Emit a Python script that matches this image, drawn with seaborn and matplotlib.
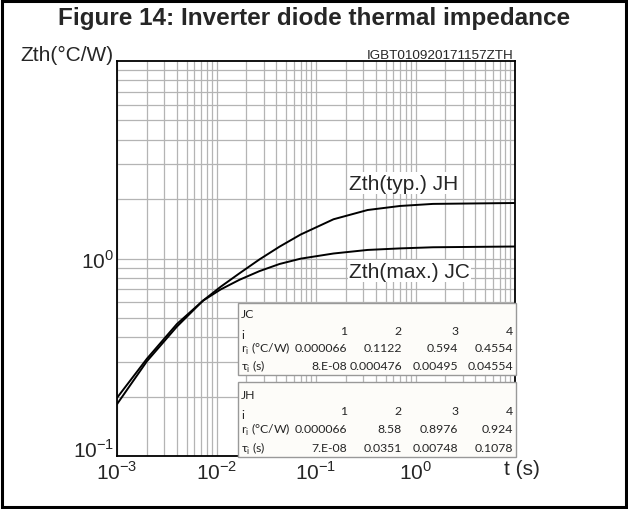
import pandas as pd
import seaborn as sns
import numpy as np
import matplotlib.pyplot as plt
import matplotlib.transforms as mtransforms
from matplotlib.patches import Rectangle

# values
t_s = [0.001, 0.002, 0.004, 0.0073, 0.011, 0.017, 0.027, 0.043, 0.07, 0.15, 0.33, 0.7, 1.5, 10]
zth_jc = [0.197, 0.311, 0.466, 0.611, 0.697, 0.780, 0.863, 0.938, 0.998, 1.060, 1.105, 1.125, 1.14, 1.15]
zth_jh = [0.183, 0.302, 0.452, 0.611, 0.719, 0.841, 0.989, 1.148, 1.322, 1.58, 1.76, 1.845, 1.89, 1.91]

cols = ["1", "2", "3", "4"]
jc_r = ["0.000066", "0.1122", "0.594", "0.4554"]
jc_tau = ["8.E-08", "0.000476", "0.00495", "0.04554"]
jh_r = ["0.000066", "8.58", "0.8976", "0.924"]
jh_tau = ["7.E-08", "0.0351", "0.00748", "0.1078"]

df = pd.DataFrame({
    "t": t_s + t_s,
    "Z": zth_jc + zth_jh,
    "curve": ["JC"] * len(t_s) + ["JH"] * len(t_s),
})

sns.set_style("white")
plt.rcParams["font.family"] = ["Liberation Sans", "DejaVu Sans"]
plt.rcParams["mathtext.fontset"] = "custom"
plt.rcParams["mathtext.rm"] = "Liberation Sans"

fig = plt.figure(figsize=(6.28, 5.10), dpi=100)
ax = fig.add_axes([117 / 628, 53 / 510, 398 / 628, 395 / 510])

sns.lineplot(data=df, x="t", y="Z", hue="curve", palette=["black", "black"],
             legend=False, sort=False, lw=1.4, ax=ax, zorder=3)

ax.set_xscale("log")
ax.set_yscale("log")
ax.set_xlim(1e-3, 10)
ax.set_ylim(0.1, 10)
ax.grid(True, which="both", color="#b4b4b4", lw=0.9)
ax.set_axisbelow(True)
ax.tick_params(which="both", length=0, labelsize=15)
ax.tick_params(axis="y", pad=2)
ax.tick_params(axis="x", pad=3)
ax.set_xticks([1e-3, 1e-2, 1e-1, 1e0])
ax.set_xticklabels(["$10^{-3}$", "$10^{-2}$", "$10^{-1}$", "$10^{0}$"])
ax.set_yticks([1e-1, 1e0])
ax.set_yticklabels(["$10^{-1}$", "$10^{0}$"])
ax.get_yticklabels()[0].set_transform(
    ax.get_yticklabels()[0].get_transform()
    + mtransforms.ScaledTranslation(0, 8 / 100, fig.dpi_scale_trans))
ax.set_xlabel("")
ax.set_ylabel("")
for s in ax.spines.values():
    s.set_color("black")
    s.set_linewidth(1.3)

def fx(px):
    return (px - 117) / 398

def fy(py):
    return (457 - py) / 395

# curve labels
ax.text(fx(349), fy(184), "Zth(typ.) JH", transform=ax.transAxes, fontsize=15,
        va="center", ha="left", zorder=4,
        bbox=dict(facecolor="white", edgecolor="none", pad=1))
ax.text(fx(349), fy(272), "Zth(max.) JC", transform=ax.transAxes, fontsize=15,
        va="center", ha="left", zorder=4,
        bbox=dict(facecolor="white", edgecolor="none", pad=1))

# parameter tables
tfont = ["Lato", "DejaVu Sans"]
col_x = [347, 402, 458, 513]

def draw_table(top, bottom, name, r_vals, tau_vals, y_name, y_i, y_r, y_tau):
    ax.add_patch(Rectangle((fx(238), fy(bottom)), fx(516) - fx(238), fy(top) - fy(bottom),
                           transform=ax.transAxes, facecolor="#fdfcf9",
                           edgecolor="#999999", lw=1.0, zorder=5, clip_on=False))
    kw = dict(transform=ax.transAxes, fontsize=8.8, family=tfont, zorder=6, va="center")
    ax.text(fx(241), fy(y_name), name, ha="left", **kw)
    ax.text(fx(241), fy(y_i + 4), "i", ha="left", **kw)
    ax.text(fx(241), fy(y_r), r"r$_\mathregular{i}$ (°C/W)", ha="left", **kw)
    ax.text(fx(241), fy(y_tau), r"τ$_\mathregular{i}$ (s)", ha="left", **kw)
    for cx, c, r, tau in zip(col_x, cols, r_vals, tau_vals):
        ax.text(fx(cx), fy(y_i), c, ha="right", **kw)
        ax.text(fx(cx), fy(y_r), r, ha="right", **kw)
        ax.text(fx(cx), fy(y_tau), tau, ha="right", **kw)

draw_table(304, 376, "JC", jc_r, jc_tau, 315, 332, 349, 367)
draw_table(383, 458, "JH", jh_r, jh_tau, 396, 412, 430, 449)

# outer texts
fig.text(314 / 628, 1 - 19 / 510, "Figure 14: Inverter diode thermal impedance",
         ha="center", va="center", fontsize=17.5, fontweight="bold")
fig.text(20 / 628, 1 - 55 / 510, "Zth(°C/W)", ha="left", va="center", fontsize=15)
fig.text(513 / 628, 1 - 56 / 510, "IGBT010920171157ZTH", ha="right", va="center", fontsize=9.7)
fig.text(504 / 628, 1 - 470 / 510, "t (s)", ha="left", va="center", fontsize=15)

fig.patches.append(Rectangle((2 / 628, 2 / 510), 624 / 628, 506 / 510,
                             transform=fig.transFigure, fill=False,
                             edgecolor="black", lw=2.2))

fig.savefig("out.png", dpi=100)
